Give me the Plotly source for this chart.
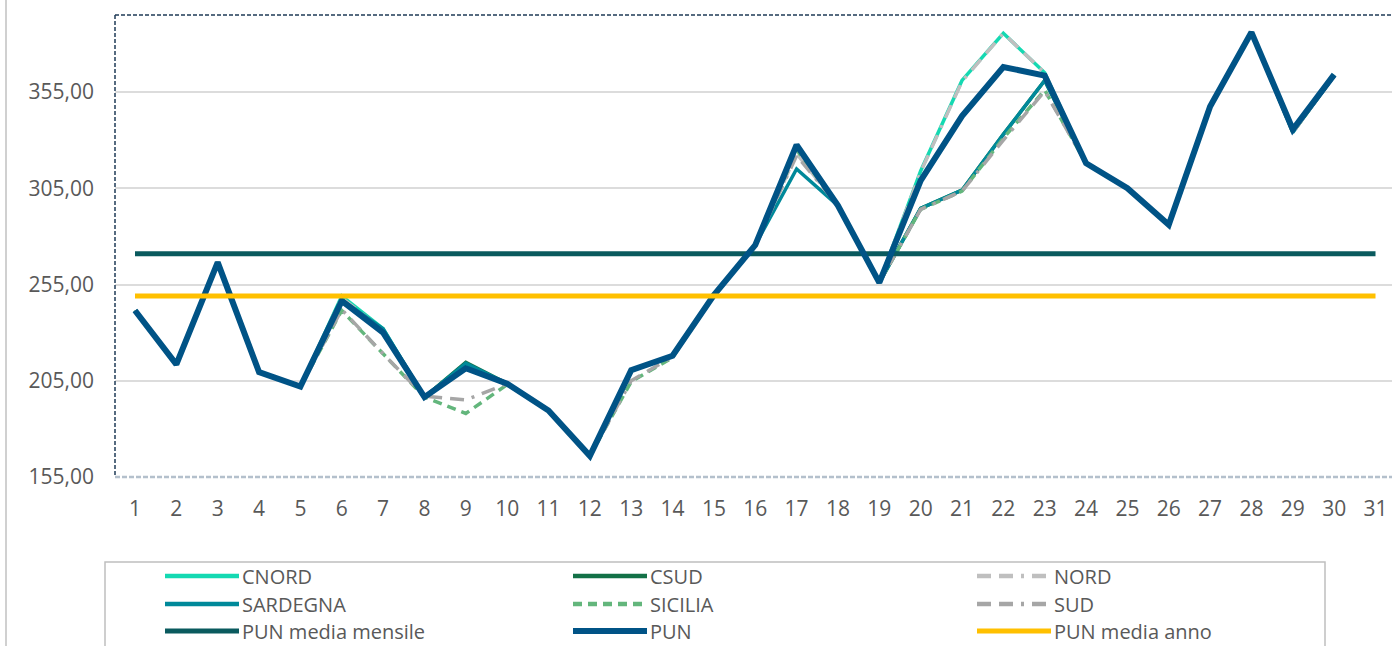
import plotly.graph_objects as go

# --- data -------------------------------------------------------------
days = list(range(1, 32))

pun = [241.5, 213.5, 266.5, 209.5, 202.0, 246.5, 230.0, 196.5, 211.5, 203.5,
       189.5, 166.0, 210.5, 218.0, 249.5, 275.5, 327.5, 296.0, 256.0, 309.0,
       342.5, 368.0, 363.5, 318.0, 305.0, 286.0, 347.5, 386.0, 335.5, 364.0, None]
cnord = [241.5, 213.5, 266.5, 209.5, 202.0, 249.0, 232.0, 196.5, 213.5, 203.5,
         189.5, 166.0, 210.5, 218.0, 249.5, 275.5, 327.5, 296.0, 256.0, 314.0,
         361.0, 385.5, 365.0, 318.0, 305.0, 286.0, 347.5, 386.0, 335.5, 364.0, None]
nord = [241.5, 213.5, 266.5, 209.5, 202.0, 248.0, 231.5, 196.5, 213.0, 203.5,
        189.5, 166.0, 210.5, 218.0, 249.5, 275.5, 323.0, 296.0, 256.0, 313.5,
        360.5, 385.5, 365.0, 318.0, 305.0, 286.0, 347.5, 386.0, 335.0, 364.0, None]
csud = [241.5, 213.5, 266.5, 209.5, 202.0, 246.0, 230.5, 196.5, 214.5, 203.5,
        189.5, 166.0, 210.5, 218.0, 249.5, 275.5, 327.5, 296.0, 256.0, 294.5,
        304.0, 333.0, 361.0, 318.0, 305.0, 286.0, 347.5, 386.0, 334.5, 363.5, None]
sardegna = [241.5, 213.5, 266.5, 209.5, 202.0, 247.0, 232.0, 196.5, 214.0, 203.5,
            189.5, 166.0, 210.5, 218.0, 249.5, 275.5, 315.0, 296.0, 256.0, 294.5,
            304.0, 333.0, 361.0, 318.0, 305.0, 286.0, 347.5, 386.0, 334.0, 363.5, None]
sicilia = [241.5, 213.5, 266.5, 209.5, 202.0, 241.5, 219.0, 196.5, 188.0, 203.0,
           189.5, 166.0, 204.5, 217.0, 249.5, 275.5, 325.0, 296.0, 256.0, 294.0,
           303.5, 331.0, 356.0, 318.0, 305.0, 286.0, 347.5, 386.0, 334.0, 363.5, None]
sud = [241.5, 213.5, 266.5, 209.5, 202.0, 242.0, 219.0, 197.0, 195.0, 203.5,
       189.5, 166.0, 205.0, 217.5, 249.5, 275.5, 322.0, 296.0, 256.0, 294.0,
       303.5, 330.0, 355.5, 318.0, 305.0, 286.0, 347.5, 386.0, 334.0, 363.5, None]
pun_media_mensile = [271.0] * 31
pun_media_anno = [249.0] * 31

# name, values, colour, width, dash
series = [
    ("CNORD", cnord, "#14D9B2", 3.5, "solid"),
    ("CSUD", csud, "#137147", 3.5, "solid"),
    ("NORD", nord, "#BFBFBF", 3.5, "14px,8px,14px,8px,3px,8px"),
    ("SARDEGNA", sardegna, "#00899A", 3.5, "solid"),
    ("SICILIA", sicilia, "#63B67C", 3.5, "9px,6px"),
    ("SUD", sud, "#A6A6A6", 3.5, "14px,8px,14px,8px,3px,8px"),
    ("PUN media mensile", pun_media_mensile, "#0A5A5E", 5, "solid"),
    ("PUN", pun, "#005386", 6, "solid"),
    ("PUN media anno", pun_media_anno, "#FFC000", 5, "solid"),
]

# --- geometry helpers (pixel -> paper) -------------------------------
W, H = 1392, 646
L, R, T, B = 115, 0, 15, 169
PW, PH = W - L - R, H - T - B


def px(x):
    return (x - L) / PW


def py(y):
    return (H - B - y) / PH


FONT = "Open Sans"
TXT = "#595959"

fig = go.Figure()
for name, vals, col, wid, dash in series:
    fig.add_trace(go.Scatter(x=days, y=vals, name=name, mode="lines",
                             line=dict(color=col, width=wid, dash=dash),
                             showlegend=False, hoverinfo="skip"))

spacing = 41.35
x0 = 1 - 20 / spacing
x1 = x0 + PW / spacing

shapes = [
    # outer chart frame (left edge)
    dict(type="line", xref="paper", yref="paper", x0=px(6), x1=px(6), y0=py(0), y1=py(H + 20),
         line=dict(color="#D0D0D0", width=2)),
    # plot area dashed border
    dict(type="line", xref="paper", yref="paper", x0=px(115), x1=px(W + 10), y0=py(15), y1=py(15),
         line=dict(color="#1F3B57", width=1.5, dash="4px,2px")),
    dict(type="line", xref="paper", yref="paper", x0=px(115), x1=px(115), y0=py(15), y1=py(477),
         line=dict(color="#1F3B57", width=1.5, dash="4px,2px")),
    dict(type="line", xref="paper", yref="paper", x0=px(115), x1=px(W + 10), y0=py(477), y1=py(477),
         line=dict(color="#B4C0CC", width=2.5, dash="5px,2px")),
    # legend box
    dict(type="rect", xref="paper", yref="paper", x0=px(105), x1=px(1325), y0=py(562), y1=py(H + 30),
         line=dict(color="#BFBFBF", width=1.5), fillcolor="rgba(0,0,0,0)"),
]

annotations = []
cols = [165, 573, 977]
rows = [576, 604, 631]
for i, (name, vals, col, wid, dash) in enumerate(series):
    cx = cols[i % 3]
    ry = rows[i // 3]
    shapes.append(dict(type="line", xref="paper", yref="paper",
                       x0=px(cx), x1=px(cx + 74), y0=py(ry), y1=py(ry),
                       line=dict(color=col, width=max(wid, 4.5), dash=dash)))
    annotations.append(dict(text=name, xref="paper", yref="paper", x=px(cx + 76), y=py(ry),
                            xanchor="left", yanchor="middle", showarrow=False, borderpad=0,
                            font=dict(family=FONT, size=20, color=TXT)))

fig.update_layout(
    width=W, height=H,
    margin=dict(l=L, r=R, t=T, b=B, autoexpand=False),
    paper_bgcolor="white", plot_bgcolor="white",
    separators=",.",
    font=dict(family=FONT, size=21, color=TXT),
    xaxis=dict(range=[x0, x1], tickmode="linear", tick0=1, dtick=1, showgrid=False,
               zeroline=False, showline=False, ticks="", ticklabelstandoff=17,
               tickfont=dict(family=FONT, size=21, color=TXT)),
    yaxis=dict(range=[155, 395], tickmode="linear", tick0=155, dtick=50, tickformat=".2f",
               showgrid=True, gridcolor="#DCDCDC", gridwidth=1.5, zeroline=False,
               showline=False, ticks="", ticklabelstandoff=20,
               tickfont=dict(family=FONT, size=21, color=TXT)),
    shapes=shapes,
    annotations=annotations,
)

# remove the browser's default page margin so the figure sits at (0, 0)
fig.write_html("out.html", config={"displayModeBar": False},
               post_script="document.body.style.margin='0';")
